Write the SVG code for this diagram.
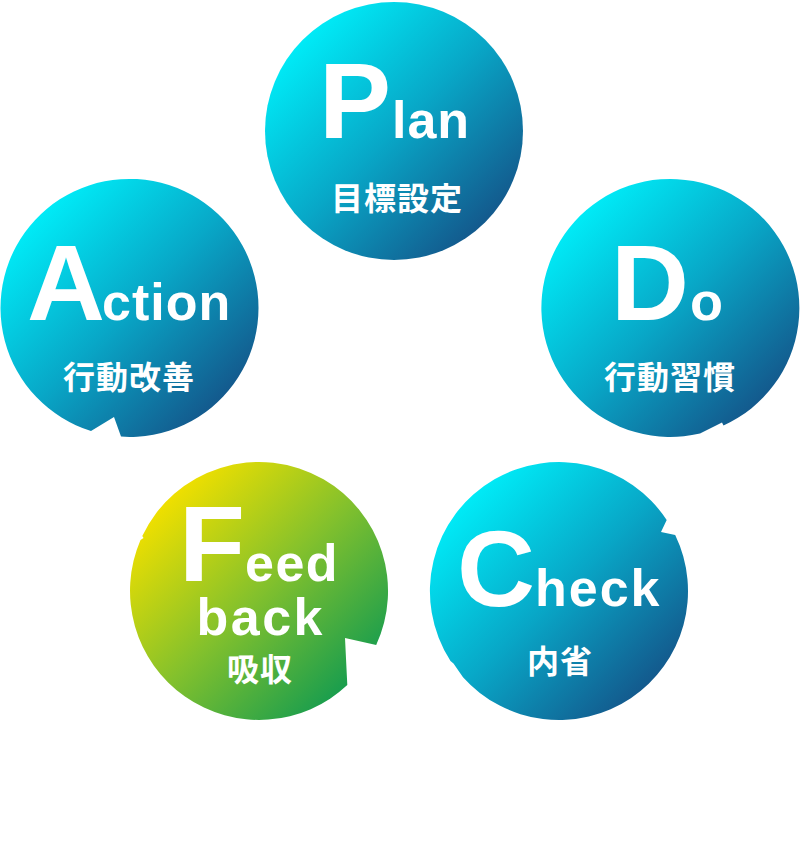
<svg xmlns="http://www.w3.org/2000/svg" width="800" height="865" viewBox="0 0 800 865">
<defs>
<linearGradient id="gBlue" x1="0" y1="0" x2="1" y2="1">
<stop offset="0.15" stop-color="#00eaf6"/>
<stop offset="0.5" stop-color="#08a7c7"/>
<stop offset="0.88" stop-color="#145489"/>
</linearGradient>
<linearGradient id="gGreen" x1="0" y1="0" x2="1" y2="1">
<stop offset="0.15" stop-color="#eedf00"/>
<stop offset="0.5" stop-color="#84c12c"/>
<stop offset="0.88" stop-color="#129b50"/>
</linearGradient>
<style>
.blue{fill:url(#gBlue);}
.green{fill:url(#gGreen);}
.big{font-family:"Liberation Sans",Arial,sans-serif;font-weight:bold;font-size:108px;fill:#fff;}
.sm{font-family:"Liberation Sans",Arial,sans-serif;font-weight:bold;font-size:52px;fill:#fff;letter-spacing:2px;}
.jp{font-family:"Liberation Sans","Noto Sans CJK JP",sans-serif;font-weight:bold;font-size:32px;fill:#fff;letter-spacing:1px;}
</style>
</defs>
<rect width="800" height="865" fill="#fff"/>
<g id="plan">
<circle class="blue" cx="394" cy="131" r="129"/>
<text class="big" x="319" y="138">P</text>
<text class="sm" x="392" y="138" style="letter-spacing:1px">lan</text>
<text class="jp" x="331" y="210">目標設定</text>
</g>
<g id="do">
<path class="blue" d="M723.5,425.5 A129,129 0 1 0 700,433.5 L722,422.5 Z"/>
<text class="big" x="611" y="320">D</text>
<text class="sm" x="690" y="320" style="font-size:54px">o</text>
<text class="jp" x="604" y="389">行動習慣</text>
</g>
<g id="check">
<path class="blue" d="M675.2,535 A129,129 0 0 1 463,677.2 L453.5,663.5 L450.5,661 A129,129 0 0 1 494.5,479.3 A129,129 0 0 1 666.7,520 L661,532 Z"/>
<text class="big" x="457" y="606">C</text>
<text class="sm" x="535" y="606" style="letter-spacing:2px">heck</text>
<text class="jp" x="527" y="673">内省</text>
</g>
<g id="feedback">
<path class="green" d="M347.3,685 A129,129 0 0 1 140.5,540 L143.5,538 L142.3,536 A129,129 0 0 1 323.5,479.3 A129,129 0 0 1 376.2,645 L345,638 Z"/>
<text class="big" x="179" y="581">F</text>
<text class="sm" x="245" y="581" style="letter-spacing:1.5px">eed</text>
<text class="sm" x="196.5" y="635" style="letter-spacing:2.5px">back</text>
<text class="jp" x="227" y="681">吸収</text>
</g>
<g id="action">
<path class="blue" d="M121,436.6 A129,129 0 1 0 91,431 L114,417 Z"/>
<text class="big" x="27" y="320">A</text>
<text class="sm" x="102" y="320" style="letter-spacing:1px">ction</text>
<text class="jp" x="63" y="389">行動改善</text>
</g>
<g id="connectors"></g>
</svg>
